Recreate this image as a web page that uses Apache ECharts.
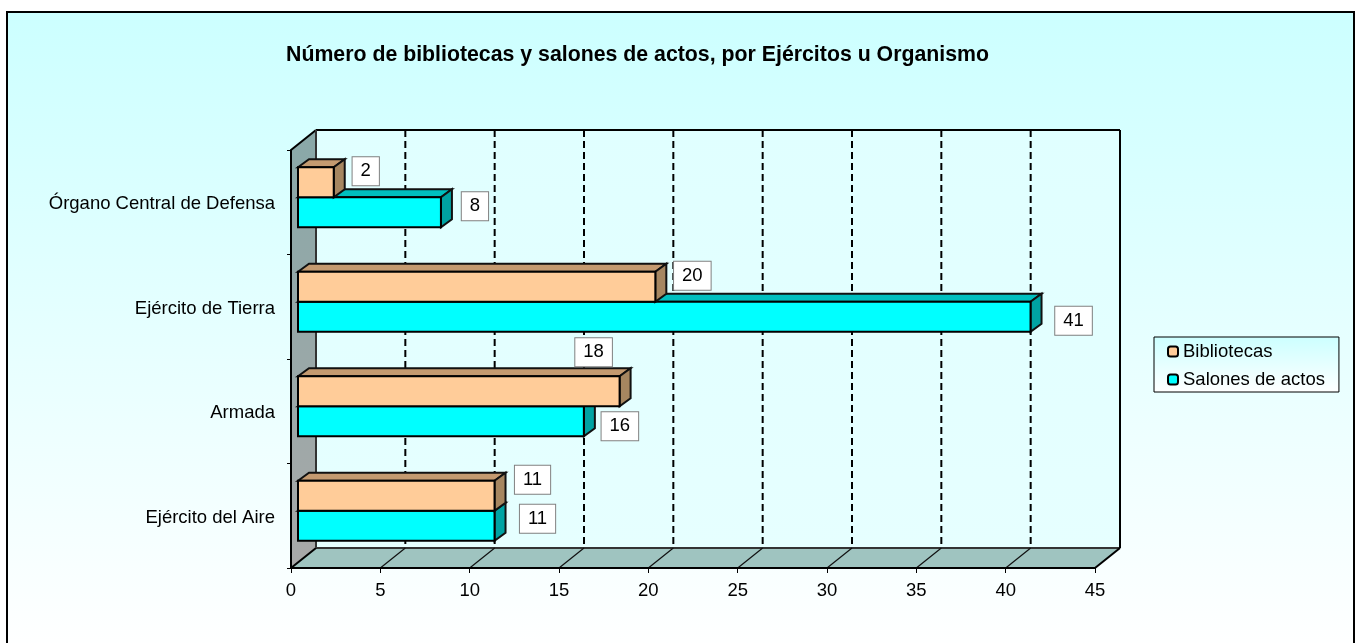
<!DOCTYPE html>
<html lang="es" style="height: 100%">

<head>
  <meta charset="UTF-8" />
  <title>Bibliotecas y salones de actos</title>
  <script src="https://cdn.jsdelivr.net/npm/echarts@6/dist/echarts.min.js"></script>
</head>

<body style="height: 100%; margin: 0; background: #fff">
  <div id="main" style="width: 1356px; height: 643px"></div>
  <script type="text/javascript">
    // data, bottom to top as on the category axis
    var categorias = ["Ejército del Aire", "Armada", "Ejército de Tierra", "Órgano Central de Defensa"];
    var bibliotecas = [11, 18, 20, 2];
    var salones = [11, 16, 41, 8];
    var ticksX = [0, 5, 10, 15, 20, 25, 30, 35, 40, 45];

    var FONT = '"Liberation Sans", Arial, sans-serif';
    var WALL = [25, -20]; // depth of the box
    var BAR_ORIGIN = [7, -5]; // where the bars sit inside the box
    var BAR_DEPTH = [11, -8];
    var BAR_H = 30;

    // hand placed value boxes (offset of box centre from bar end), same order as the data
    var offsetBiblio = [[38, -16], [-26, -39], [37, -11], [32, -11]];
    var offsetSalon = [[43, -7], [36, 5], [43, 4], [34, -6]];

    function poly(points, fill, stroke, lineWidth) {
      return {
        type: "polygon",
        shape: { points: points },
        style: { fill: fill, stroke: stroke, lineWidth: lineWidth, lineJoin: "miter" }
      };
    }

    function valueBox(text, x, y) {
      return {
        type: "text",
        z2: 20,
        style: {
          text: text, x: x, y: y, align: "center", verticalAlign: "middle",
          font: "18.5px " + FONT, fill: "#000",
          backgroundColor: "#fff", borderColor: "#808080", borderWidth: 1,
          padding: [5, 8, 4, 8]
        }
      };
    }

    // one 3d bar; shift says if it sits above (-1) or below (0) the band centre line
    function barRenderer(shift, colors, offsets) {
      return function (params, api) {
        var cat = api.value(1);
        var end = api.coord([api.value(0), cat]);
        var start = api.coord([0, cat]);
        var x0 = start[0] + BAR_ORIGIN[0];
        var x1 = end[0] + BAR_ORIGIN[0];
        var y0 = end[1] + BAR_ORIGIN[1] + shift * BAR_H;
        var y1 = y0 + BAR_H;
        var dx = BAR_DEPTH[0], dy = BAR_DEPTH[1];
        var off = offsets[params.dataIndex];
        return {
          type: "group",
          children: [
            poly([[x0, y0], [x0 + dx, y0 + dy], [x1 + dx, y0 + dy], [x1, y0]], colors[1], "#111", 2),
            poly([[x1, y0], [x1 + dx, y0 + dy], [x1 + dx, y1 + dy], [x1, y1]], colors[2], "#111", 2),
            poly([[x0, y0], [x1, y0], [x1, y1], [x0, y1]], colors[0], "#000", 2),
            valueBox(String(api.value(0)), x1 + off[0], y0 + BAR_H / 2 + off[1])
          ]
        };
      };
    }

    // side wall, floor and back wall of the box
    function renderBox(params, api) {
      var c = params.coordSys;
      var l = c.x, r = c.x + c.width, t = c.y, b = c.y + c.height;
      var dx = WALL[0], dy = WALL[1];
      var lines = [[[l + dx, b + dy], [r + dx, b + dy], "#333"], [[l + dx, t + dy], [r + dx, t + dy], "#000"],
        [[r + dx, t + dy], [r + dx, b + dy], "#000"], [[l, t], [l + dx, t + dy], "#000"], [[r, b], [r + dx, b + dy], "#000"],
        [[l, b], [l + dx, b + dy], "#000"], [[l + dx, t + dy], [l + dx, b + dy], "#333"]];
      var children = [
        {
          type: "rect", shape: { x: l + dx, y: t + dy, width: c.width, height: c.height },
          style: { fill: new echarts.graphic.LinearGradient(0, 0, 0, 1, [{ offset: 0, color: "#E0FFFF" }, { offset: 1, color: "#E6FFFF" }]) }
        },
        poly([[l, t], [l + dx, t + dy], [l + dx, b + dy], [l, b]], new echarts.graphic.LinearGradient(0, 0, 0, 1, [{ offset: 0, color: "#89A8A8" }, { offset: 1, color: "#A8A8A8" }]), "none", 0),
        poly([[l, b], [l + dx, b + dy], [r + dx, b + dy], [r, b]], "#9FC4C0", "none", 0)
      ];
      lines.forEach(function (s) {
        children.push({
          type: "line", shape: { x1: s[0][0], y1: s[0][1], x2: s[1][0], y2: s[1][1] },
          style: { stroke: s[2], lineWidth: 2 }
        });
      });
      return { type: "group", children: children };
    }

    // dashed line on the back wall and thin line over the floor for each tick
    function renderGrid(params, api) {
      var c = params.coordSys;
      var x = api.coord([api.value(0), 0])[0];
      var t = c.y, b = c.y + c.height;
      return {
        type: "group",
        children: [
          { type: "line", shape: { x1: x + WALL[0], y1: t + WALL[1], x2: x + WALL[0], y2: b + WALL[1] }, style: { stroke: "#000", lineWidth: 2, lineDash: [7, 4] } },
          { type: "line", shape: { x1: x, y1: b, x2: x + WALL[0], y2: b + WALL[1] }, style: { stroke: "#111", lineWidth: 1.2 } }
        ]
      };
    }

    var myChart = echarts.init(document.getElementById("main"));

    var option = {
      animation: false,
      textStyle: { fontFamily: FONT },
      title: {
        text: "Número de bibliotecas y salones de actos, por Ejércitos u Organismo",
        left: 281, top: 40,
        textStyle: { fontFamily: FONT, fontSize: 21.3, fontWeight: "bold", color: "#000" }
      },
      graphic: [{
        type: "rect", z: -10,
        shape: { x: 7, y: 12, width: 1347, height: 640 },
        style: {
          fill: new echarts.graphic.LinearGradient(0, 0, 0, 1, [{ offset: 0, color: "#CCFFFF" }, { offset: 1, color: "#FFFFFF" }]),
          stroke: "#000", lineWidth: 2
        }
      }],
      legend: {
        orient: "vertical",
        left: 1154, top: 337,
        data: ["Bibliotecas", "Salones de actos"],
        padding: [5, 14, 3, 13],
        itemGap: 9,
        itemWidth: 10, itemHeight: 10,
        backgroundColor: new echarts.graphic.LinearGradient(0, 0, 0, 1, [{ offset: 0, color: "#CCFFFF" }, { offset: 1, color: "#FFFFFF" }]),
        borderColor: "#000", borderWidth: 1,
        textStyle: { fontFamily: FONT, fontSize: 18.5, color: "#000" }
      },
      grid: { left: 291, top: 150, width: 804, height: 418 },
      xAxis: {
        type: "value", min: 0, max: 45, interval: 5, z: 5,
        axisLine: { show: true, onZero: false, lineStyle: { color: "#000", width: 2 } },
        axisTick: { show: true, length: 5, lineStyle: { color: "#000", width: 1 } },
        axisLabel: { color: "#000", fontSize: 18.5, fontFamily: FONT, margin: 13 },
        splitLine: { show: false }
      },
      yAxis: {
        type: "category", data: categorias, z: 5,
        axisLine: { show: true, lineStyle: { color: "#000", width: 2 } },
        axisTick: { show: true, length: 4, lineStyle: { color: "#000", width: 1 } },
        axisLabel: {
          margin: 16,
          formatter: "{a|{value}}",
          rich: { a: { color: "#000", fontSize: 18.5, fontFamily: FONT, padding: [4, 0, 0, 0] } }
        },
        splitLine: { show: false }
      },
      series: [
        { type: "custom", name: "caja", z: 1, silent: true, renderItem: renderBox, data: [[0]], clip: false },
        { type: "custom", name: "rejilla", z: 1.5, silent: true, renderItem: renderGrid, data: ticksX.slice(1, -1).map(function (v) { return [v]; }), clip: false },
        {
          type: "custom", name: "Salones de actos", z: 2, renderItem: barRenderer(0, ["#00FFFF", "#00BFBF", "#00A3A3"], offsetSalon),
          itemStyle: { color: "#00FFFF", borderColor: "#000", borderWidth: 2 },
          encode: { x: 0, y: 1 }, clip: false,
          data: salones.map(function (v, i) { return [v, i]; })
        },
        {
          type: "custom", name: "Bibliotecas", z: 3, renderItem: barRenderer(-1, ["#FFCC99", "#C49A70", "#A68660"], offsetBiblio),
          itemStyle: { color: "#FFCC99", borderColor: "#000", borderWidth: 2 },
          encode: { x: 0, y: 1 }, clip: false,
          data: bibliotecas.map(function (v, i) { return [v, i]; })
        }
      ]
    };

    myChart.setOption(option);
  </script>
</body>

</html>
